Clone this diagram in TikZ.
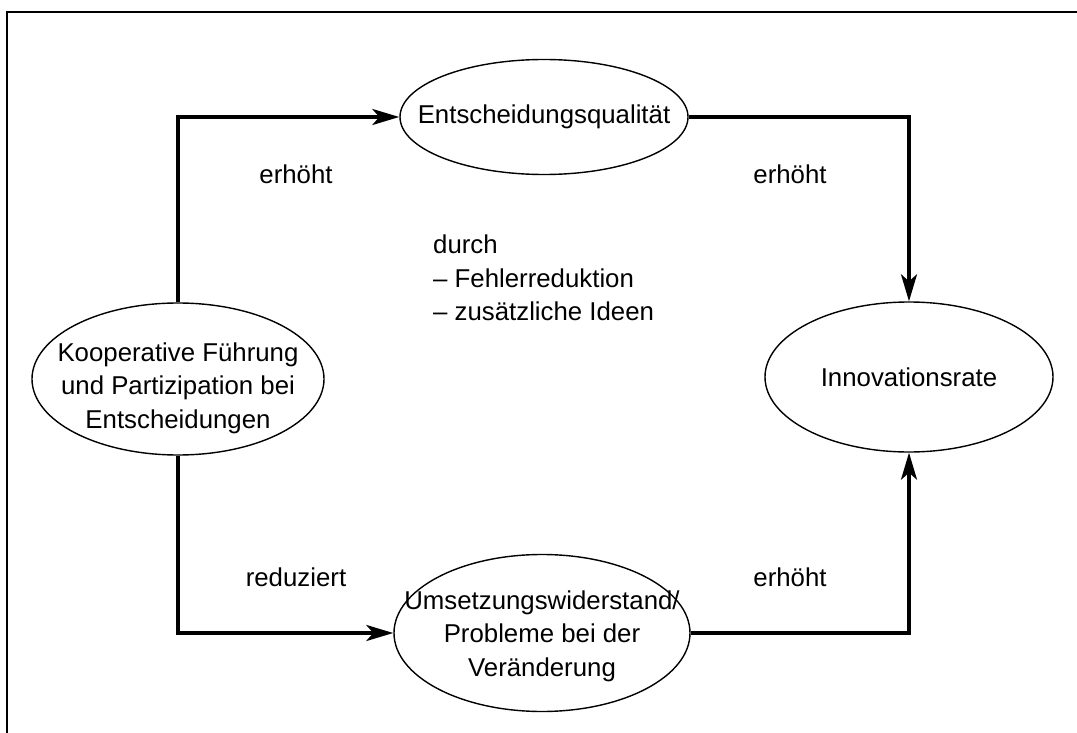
\documentclass[tikz,border=0pt]{standalone}
\usepackage{fontspec}
\setmainfont{Liberation Sans}
\usetikzlibrary{shapes.geometric,arrows.meta}
\begin{document}
\begin{tikzpicture}[x=1pt,y=-1pt,
  ell/.style={draw,ellipse,line width=1.4pt,inner sep=0pt},
  txt/.style={inner sep=0pt,align=center,font=\fontsize{25.8}{33.5}\selectfont},
  conn/.style={line width=3.4pt,-{Stealth[length=27pt,width=16pt,inset=7pt]}},
  lbl/.style={inner sep=0pt,font=\fontsize{25.8}{33.5}\selectfont}]
\useasboundingbox (0,0) rectangle (1077,733);
\draw[line width=2pt] (7,733) -- (7,12) -- (1077,12);
% ellipses
\node[ell,minimum width=288pt,minimum height=115pt] (T) at (544,117) {};
\node[txt] at (T) {Entscheidungsqualität};
\node[ell,minimum width=292pt,minimum height=152pt] (L) at (178,379) {};
\node[txt] at ([yshift=-9pt]L.center) {Kooperative Führung\\und Partizipation bei\\Entscheidungen};
\node[ell,minimum width=288pt,minimum height=150pt] (R) at (909,377) {};
\node[txt] at (R) {Innovationsrate};
\node[ell,minimum width=296pt,minimum height=157pt] (B) at (542,633) {};
\node[txt] at ([yshift=-3pt]B.center) {Umsetzungswiderstand/\\Probleme bei der\\Veränderung};
% connectors
\draw[conn] (L.north) |- (T.west);
\draw[conn] (T.east) -| (R.north);
\draw[conn] (L.south) |- (B.west);
\draw[conn] (B.east) -| (R.south);
% labels
\node[lbl] (l1) at (296,174) {erhöht};
\node[lbl] (l2) at (790,174) {erhöht};
\node[lbl] (l3) at (296,577) {reduziert};
\node[lbl] (l4) at (790,577) {erhöht};
\node[lbl,align=left,anchor=north west] (mid) at (433,235) {durch\\– Fehlerreduktion\\– zusätzliche Ideen};
\end{tikzpicture}
\end{document}
